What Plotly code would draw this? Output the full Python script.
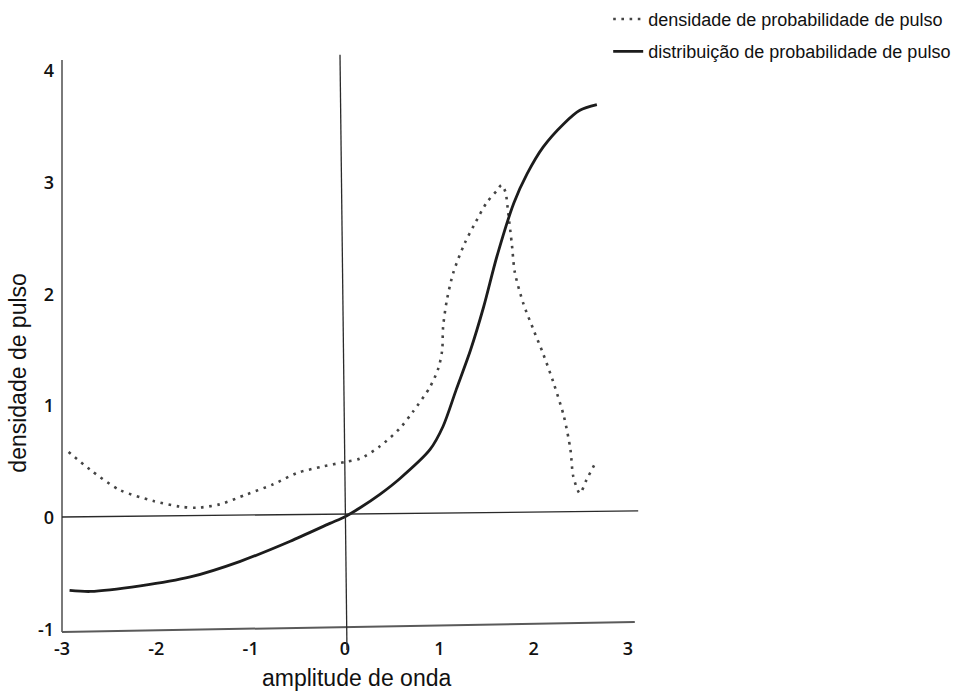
import plotly.graph_objects as go

# Pulse probability density (dotted curve)
dens_x = [-2.93, -2.70, -2.39, -2.03, -1.75, -1.57, -1.33, -1.04, -0.76, -0.51,
          -0.23, 0.00, 0.16, 0.37, 0.58, 0.72, 0.90, 0.99, 1.03, 1.04, 1.08,
          1.15, 1.27, 1.38, 1.50, 1.61, 1.66, 1.70, 1.73, 1.77, 1.80, 1.89,
          2.00, 2.10, 2.21, 2.32, 2.39, 2.42, 2.49, 2.56, 2.66]
dens_y = [0.59, 0.43, 0.25, 0.15, 0.10, 0.09, 0.12, 0.21, 0.30, 0.40,
          0.46, 0.50, 0.53, 0.64, 0.80, 0.95, 1.17, 1.34, 1.50, 1.71, 1.95,
          2.20, 2.46, 2.64, 2.82, 2.93, 2.98, 2.92, 2.73, 2.44, 2.20, 1.92,
          1.68, 1.47, 1.21, 0.91, 0.61, 0.37, 0.22, 0.34, 0.50]

# Pulse probability distribution (solid curve)
dist_x = [-2.92, -2.70, -2.17, -1.64, -1.11, -0.58, -0.16, 0.00, 0.16, 0.37,
          0.58, 0.90, 1.04, 1.18, 1.33, 1.47, 1.61, 1.79, 1.93, 2.10,
          2.32, 2.49, 2.67]
dist_y = [-0.65, -0.66, -0.61, -0.53, -0.39, -0.21, -0.05, 0.01, 0.09, 0.21,
          0.35, 0.61, 0.82, 1.15, 1.50, 1.89, 2.34, 2.82, 3.08, 3.32,
          3.53, 3.65, 3.70]

x_ticks = [-3, -2, -1, 0, 1, 2, 3]
y_ticks = [-1, 0, 1, 2, 3, 4]

legend_names = ["densidade de probabilidade de pulso",
                "distribuição de probabilidade de pulso"]

fig = go.Figure()

fig.add_trace(go.Scatter(
    x=dens_x, y=dens_y, mode="lines", name=legend_names[0],
    legendgroup="a",
    line=dict(color="#444444", width=2.6, dash="2.6px,5.6px",
              shape="spline", smoothing=0.8),
))
fig.add_trace(go.Scatter(
    x=dist_x, y=dist_y, mode="lines", name=legend_names[1],
    legendgroup="b",
    line=dict(color="#1c1c1c", width=2.8, shape="spline", smoothing=0.8),
))

# hand-drawn style axes: slightly tilted reference lines
axis_shapes = [
    # left axis
    dict(type="line", xref="paper", yref="y", x0=0, x1=0, y0=-1.023, y1=4.1,
         line=dict(color="#7a7a7a", width=2)),
    # bottom axis
    dict(type="line", xref="paper", yref="y", x0=0, x1=1.012, y0=-1.023, y1=-0.934,
         line=dict(color="#5a5a5a", width=2)),
    # horizontal zero line
    dict(type="line", xref="paper", yref="y", x0=0, x1=1.018, y0=0.007, y1=0.061,
         line=dict(color="#2a2a2a", width=1.3)),
    # vertical zero line
    dict(type="line", xref="x", yref="paper", x0=-0.053, x1=0.021, y0=1.009, y1=-0.026,
         line=dict(color="#2a2a2a", width=1.3)),
]

tick_font = dict(family="Open Sans", size=18, color="#111111", weight=600)
title_font = dict(family="Liberation Sans, Arial", size=23, color="#111111")

axis_titles = [
    dict(text="amplitude de onda", xref="paper", yref="paper",
         x=0.52, y=-0.075, xanchor="center", yanchor="middle",
         showarrow=False, font=title_font),
    dict(text="densidade de pulso", xref="paper", yref="paper",
         x=-0.078, y=0.456, xanchor="center", yanchor="middle",
         textangle=-90, showarrow=False, font=title_font),
]

fig.update_layout(
    width=955, height=691,
    margin=dict(l=62, r=327, t=60, b=56, autoexpand=False),
    paper_bgcolor="white", plot_bgcolor="white",
    shapes=axis_shapes,
    annotations=axis_titles,
    showlegend=True,
    legend=dict(
        x=0.965, y=1.103, xanchor="left", yanchor="top",
        font=dict(family="Liberation Sans, Arial", size=18, color="#111111"),
        bgcolor="rgba(0,0,0,0)", itemwidth=30, tracegroupgap=6,
    ),
    xaxis=dict(
        range=[-3, 3], tickvals=x_ticks, ticktext=[str(v) for v in x_ticks],
        showgrid=False, zeroline=False, showline=False, ticks="",
        tickfont=tick_font, ticklabelstandoff=1,
    ),
    yaxis=dict(
        range=[-1.05, 4.1], tickvals=y_ticks, ticktext=[str(v) for v in y_ticks],
        showgrid=False, zeroline=False, showline=False, ticks="",
        tickfont=tick_font, ticklabelstandoff=7,
    ),
)

fig.write_html("out.html")
